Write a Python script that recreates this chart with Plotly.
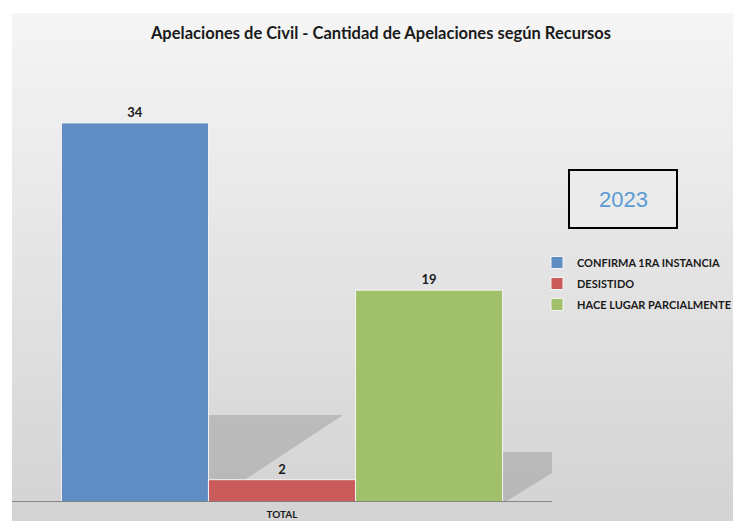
import plotly.graph_objects as go

category = ["TOTAL"]
series_names = ["CONFIRMA 1RA INSTANCIA", "DESISTIDO", "HACE LUGAR PARCIALMENTE"]
series_values = [34, 2, 19]
series_colors = ["#5f8dc3", "#c95b5b", "#a0c169"]

W, H = 733, 521
ML, MR, MT, MB = 12, 181, 56, 19
plot_w = W - ML - MR
plot_h = H - MT - MB


def px_x(p):
    return (p - ML) / plot_w


def px_y(p):
    return (H - MB - p) / plot_h


def path(points):
    pts = [f"{px_x(x):.4f},{px_y(y):.4f}" for x, y in points]
    return "M" + " L".join(pts) + " Z"


fig = go.Figure()
for name, val, col in zip(series_names, series_values, series_colors):
    fig.add_bar(
        x=category, y=[val], name=name, marker_color=col,
        marker_line=dict(color="#f4f4f4", width=1),
        legendgroup=name,
        text=[f"<b>{val}</b>"], textposition="outside",
        textfont=dict(family="Lato", size=13, color="#1a1a1a"),
        cliponaxis=False,
    )

# grey gradient background made of overlapping bands
shapes = []
n = 40
top, bottom = 13, H
for i in range(n):
    y0 = top + (bottom - top) * i / n
    y1 = top + (bottom - top) * (i + 1) / n + 2
    g = int(245 - (245 - 212) * i / (n - 1))
    shapes.append(dict(
        type="rect", xref="paper", yref="paper", layer="below",
        x0=px_x(12), x1=px_x(W), y0=px_y(min(y1, H)), y1=px_y(y0),
        fillcolor=f"rgb({g},{g},{g})", line_width=0,
    ))
# soft shadows behind the bars
shadow = "rgba(150,150,150,0.45)"
shapes.append(dict(type="path", xref="paper", yref="paper", layer="below",
                   path=path([(208, 415), (343, 415), (243, 481), (208, 481)]),
                   fillcolor=shadow, line_width=0))
shapes.append(dict(type="path", xref="paper", yref="paper", layer="below",
                   path=path([(502, 452), (552, 452), (552, 473), (505, 502), (502, 502)]),
                   fillcolor=shadow, line_width=0))
# year box
shapes.append(dict(
    type="rect", xref="paper", yref="paper",
    x0=px_x(569), x1=px_x(677), y0=px_y(228), y1=px_y(170),
    fillcolor="#ebebeb", line=dict(color="black", width=2),
))
# axis baseline
shapes.append(dict(
    type="line", xref="paper", yref="y", x0=0, x1=1, y0=0, y1=0,
    line=dict(color="#6b6b6b", width=1.5),
))

fig.update_layout(
    width=W, height=H,
    margin=dict(l=ML, r=MR, t=MT, b=MB, autoexpand=False),
    paper_bgcolor="white",
    plot_bgcolor="rgba(0,0,0,0)",
    barmode="group",
    bargap=0.183,
    bargroupgap=0,
    shapes=shapes,
    title=dict(
        text="<b>Apelaciones de Civil - Cantidad de Apelaciones según Recursos</b>",
        x=381 / W, xanchor="center", y=1 - 33 / H, yanchor="middle",
        font=dict(family="Lato", size=16.5, color="#1a1a1a"),
    ),
    xaxis=dict(showgrid=False, showline=False, ticks="", ticklabelstandoff=5,
               automargin=False,
               tickfont=dict(family="Lato", size=10, color="#1a1a1a", weight="bold")),
    yaxis=dict(range=[0, 40], visible=False, automargin=False),
    legend=dict(
        x=px_x(537), y=px_y(248), xanchor="left", yanchor="top",
        font=dict(family="Lato", size=11, color="#1a1a1a", weight="bold"),
        bgcolor="rgba(0,0,0,0)", itemwidth=30, tracegroupgap=2,
    ),
    annotations=[dict(
        text="2023", xref="paper", yref="paper",
        x=px_x(623), y=px_y(199), xanchor="center", yanchor="middle",
        showarrow=False,
        font=dict(family="Liberation Sans", size=22, color="#5b9bd5"),
    )],
)

fig.write_html(
    "out.html",
    config={"displayModeBar": False},
    post_script="document.body.style.margin='0';document.body.style.overflow='hidden';",
)
